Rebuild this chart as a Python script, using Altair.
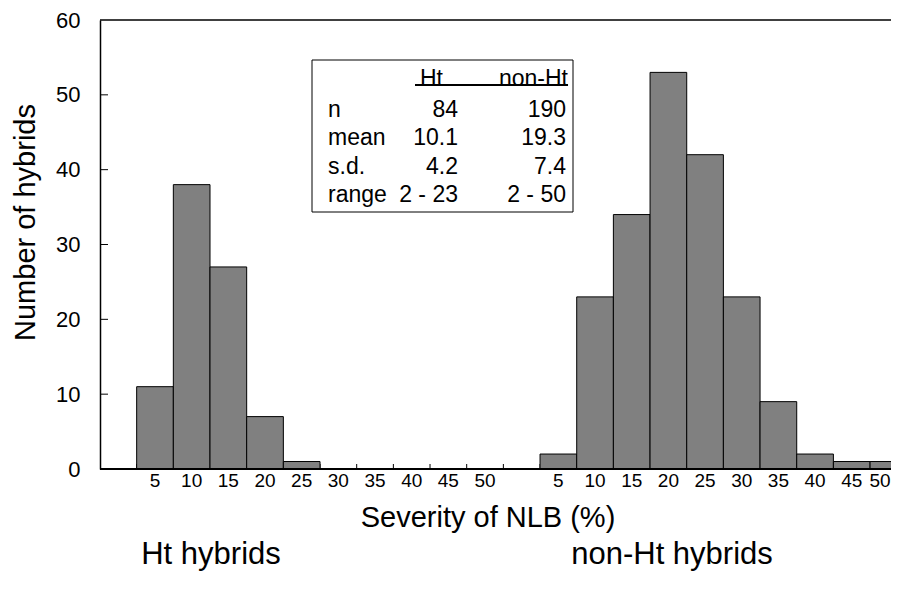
import altair as alt
import pandas as pd

# ---- data ----
bins = [5, 10, 15, 20, 25, 30, 35, 40, 45, 50]
tick_labels = ["5", "10", "15", "20", "25", "30", "35", "40", "45", "50"]
ht_counts = [11, 38, 27, 7, 1, 0, 0, 0, 0, 0]
nonht_counts = [2, 23, 34, 53, 42, 23, 9, 2, 1, 1]
y_ticks = [0, 10, 20, 30, 40, 50, 60]

stat_names = ["n", "mean", "s.d.", "range"]
ht_stats = ["84", "10.1", "4.2", "2 - 23"]
nonht_stats = ["190", "19.3", "7.4", "2 - 50"]
col_headers = ["Ht", "non-Ht"]
group_titles = ["Ht hybrids", "non-Ht hybrids"]

TOP = 12
LEFT = 92
W, H = 791, 449            # svg = 92 + 791 = 883 wide -> fits the 899 page with its margins
SLOT = 36.67               # pixel width of one 5 % bin in the reference
XMAX = W / SLOT
FONT = "Liberation Sans"

rows = []
for i, (b, c, lab) in enumerate(zip(bins, ht_counts, tick_labels)):
    rows.append({"group": "Ht", "bin": b, "label": lab, "count": c, "slot": 1 + i})
for i, (b, c, lab) in enumerate(zip(bins, nonht_counts, tick_labels)):
    rows.append({"group": "non-Ht", "bin": b, "label": lab, "count": c, "slot": 12 + i})
df = pd.DataFrame(rows)

xscale = alt.Scale(domain=[0, XMAX], nice=False, zero=False)
yscale = alt.Scale(domain=[0, 60], nice=False)

one = pd.DataFrame({"a": [0]})


def py(page_y):
    """page y -> plot y"""
    return page_y - 8 - TOP


def px(page_x):
    """page x -> plot x"""
    return page_x - 8 - LEFT


# inward x ticks at bin boundaries
xticks = alt.Chart(pd.DataFrame({"b": list(range(1, 22))})).transform_filter(
    f"datum.b < {XMAX}"
).mark_rule(color="black", strokeWidth=1).encode(
    x=alt.X("b:Q", scale=xscale, axis=None),
    y=alt.value(H),
    y2=alt.value(H - 5),
)

bars = alt.Chart(df).transform_filter("datum.count > 0").transform_calculate(
    x0="datum.slot", x1="datum.slot + 1"
).mark_bar(color="#808080", stroke="black", strokeWidth=1, clip=True).encode(
    x=alt.X("x0:Q", scale=xscale, axis=None),
    x2="x1:Q",
    y=alt.Y(
        "count:Q",
        scale=yscale,
        axis=alt.Axis(
            values=y_ticks,
            title="Number of hybrids",
            titleFont=FONT,
            titleFontSize=29,
            titleFontWeight="normal",
            titleColor="black",
            titleX=px(25),
            titleY=py(222),
            titleBaseline="middle",
            labelFont=FONT,
            labelFontSize=22,
            labelColor="black",
            labelPadding=20,
            ticks=False,
            tickSize=0,
            domainColor="black",
            domainWidth=1.5,
            grid=False,
        ),
    ),
    y2=alt.datum(0),
)

# inward y ticks
yticks = alt.Chart(pd.DataFrame({"v": y_ticks[1:-1]})).mark_rule(
    color="black", strokeWidth=1
).encode(
    y=alt.Y("v:Q", scale=yscale),
    x=alt.value(0),
    x2=alt.value(8),
)

top_line = alt.Chart(one).mark_rule(color="black", strokeWidth=1.5).encode(
    x=alt.value(0), x2=alt.value(W), y=alt.value(0)
)
bottom_line = alt.Chart(one).mark_rule(color="black", strokeWidth=2).encode(
    x=alt.value(0), x2=alt.value(W), y=alt.value(H)
)

xlabels = alt.Chart(df).transform_calculate(
    c=f"min(datum.slot + 0.5, {XMAX} - 0.3)"
).mark_text(
    font=FONT, fontSize=19, color="black", baseline="middle", align="center"
).encode(
    x=alt.X("c:Q", scale=xscale),
    y=alt.value(py(481)),
    text="label:N",
)

xtitle = alt.Chart(one).mark_text(
    font=FONT, fontSize=29, color="black", baseline="middle", align="center",
    text="Severity of NLB (%)"
).encode(x=alt.value(px(488)), y=alt.value(py(518)))

gdf = pd.DataFrame({"t": group_titles, "gx": [px(211), px(672)]})
gtitles = alt.Chart(gdf).mark_text(
    font=FONT, fontSize=31, color="black", baseline="middle", align="center"
).encode(x=alt.X("gx:Q", scale=None), y=alt.value(py(555)), text="t:N")

# ---- inset statistics table ----
box = alt.Chart(one).mark_rect(fill="white", stroke="black", strokeWidth=1).encode(
    x=alt.value(px(312)), x2=alt.value(px(573)), y=alt.value(py(60)), y2=alt.value(py(212))
)

sdf = pd.DataFrame({"name": stat_names, "ht": ht_stats, "nonht": nonht_stats})
sdf["i"] = range(len(sdf))
srow = alt.Chart(sdf).transform_calculate(ty=f"{py(117)} + datum.i * 28.3")
txt_kw = dict(font=FONT, fontSize=23, color="black", baseline="alphabetic")
names = srow.mark_text(align="left", **txt_kw).encode(
    x=alt.value(px(328)), y=alt.Y("ty:Q", scale=None), text="name:N"
)
htcol = srow.mark_text(align="right", **txt_kw).encode(
    x=alt.value(px(458)), y=alt.Y("ty:Q", scale=None), text="ht:N"
)
nhcol = srow.mark_text(align="right", **txt_kw).encode(
    x=alt.value(px(566)), y=alt.Y("ty:Q", scale=None), text="nonht:N"
)
hdf = pd.DataFrame({"h": col_headers, "hx": [px(443), px(568)]})
headers = alt.Chart(hdf).mark_text(align="right", **txt_kw).encode(
    x=alt.X("hx:Q", scale=None), y=alt.value(py(86)), text="h:N"
)
underline = alt.Chart(one).mark_rule(color="black", strokeWidth=2).encode(
    x=alt.value(px(415)), x2=alt.value(px(568)), y=alt.value(py(85))
)

chart = alt.layer(
    xticks, bars, yticks, top_line, bottom_line, xlabels, xtitle, gtitles,
    box, names, htcol, nhcol, headers, underline
).properties(
    width=W,
    height=H,
    autosize=alt.AutoSizeParams(type="none"),
    padding={"left": LEFT, "top": TOP, "right": 0, "bottom": 110},
).configure_view(stroke=None)

chart.save("out.html", embed_options={"renderer": "svg", "actions": False})
